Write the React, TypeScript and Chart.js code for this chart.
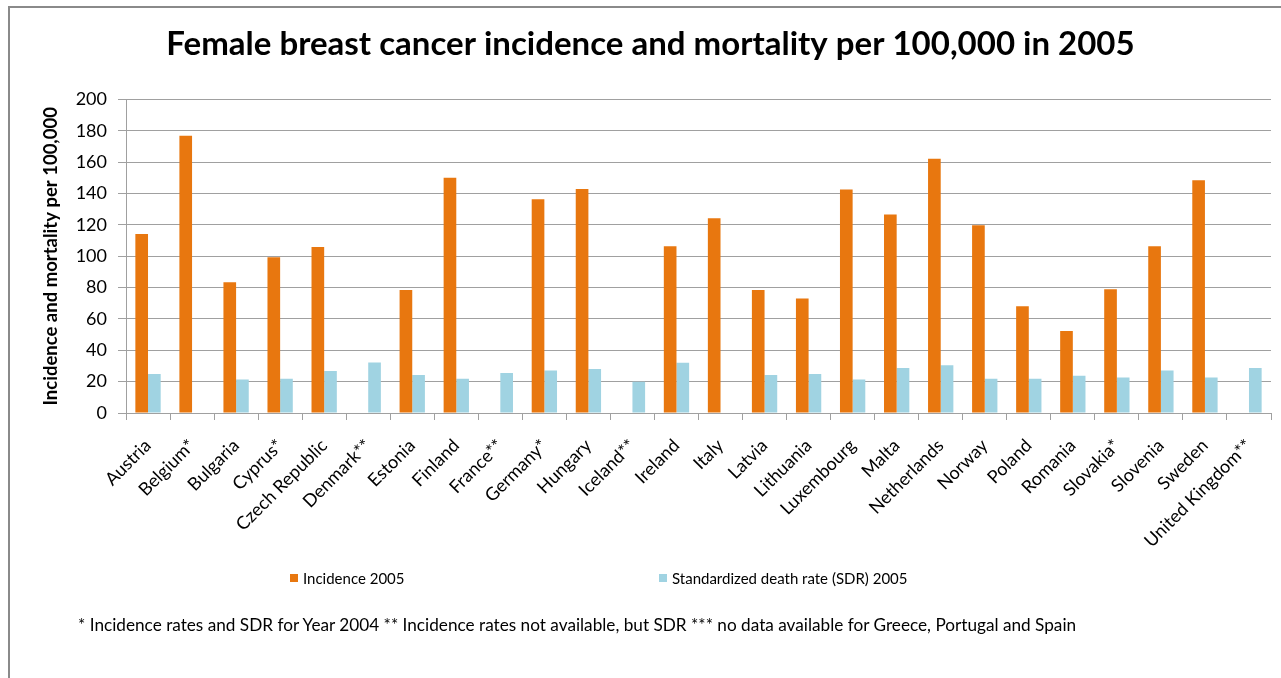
import React, { useEffect, useRef } from "react";
import { Chart, registerables } from "chart.js";

Chart.register(...registerables);

const categories = [
  "Austria", "Belgium*", "Bulgaria", "Cyprus*", "Czech Republic", "Denmark**", "Estonia",
  "Finland", "France**", "Germany*", "Hungary", "Iceland**", "Ireland", "Italy", "Latvia",
  "Lithuania", "Luxembourg", "Malta", "Netherlands", "Norway", "Poland", "Romania",
  "Slovakia*", "Slovenia", "Sweden", "United Kingdom**",
];
const incidence2005 = [
  114.3, 177, 83.4, 99.4, 106, null, 78.5, 150.2, null, 136.4, 143, null, 106.4, 124.3,
  78.5, 73, 142.6, 126.6, 162.3, 119.8, 68.1, 52.3, 78.9, 106.4, 148.5, null,
];
const sdr2005 = [
  24.9, null, 21.3, 21.9, 26.8, 32.3, 24.3, 21.9, 25.5, 27.2, 28.1, 20, 32.1, null, 24.3,
  24.9, 21.3, 28.7, 30.4, 21.9, 21.9, 23.8, 22.6, 27.2, 22.6, 28.7,
];
const seriesNames = ["Incidence 2005", "Standardized death rate (SDR) 2005"];
const titleText = "Female breast cancer incidence and mortality per 100,000 in 2005";
const yTitle = "Incidence and mortality per 100,000";
const footnote =
  "* Incidence rates and SDR for Year 2004 ** Incidence rates not available, but SDR *** no data available for Greece, Portugal and Spain";

const ORANGE = "#E8770F";
const BLUE = "#A0D3E2";
const GRID = "#A0A0A0";
const FONT = "Lato, 'Open Sans', sans-serif";

export default function App() {
  const ref = useRef<HTMLCanvasElement | null>(null);

  useEffect(() => {
    if (!ref.current) return;
    const chart = new Chart(ref.current, {
      type: "bar",
      data: {
        labels: categories,
        datasets: [
          { label: seriesNames[0], data: incidence2005, backgroundColor: ORANGE, borderWidth: 0 },
          { label: seriesNames[1], data: sdr2005, backgroundColor: BLUE, borderWidth: 0 },
        ],
      },
      options: {
        responsive: false,
        animation: false,
        layout: { padding: { left: 30, right: 10, top: 0, bottom: 0 } },
        datasets: { bar: { categoryPercentage: 0.575, barPercentage: 1 } },
        plugins: {
          legend: { display: false },
          tooltip: { enabled: false },
          title: {
            display: true,
            text: titleText,
            color: "#000",
            font: { family: FONT, size: 33, weight: "bold" },
            padding: { top: 25, bottom: 35 },
          },
        },
        scales: {
          x: {
            grid: { drawOnChartArea: false, drawTicks: true, tickLength: 7, color: GRID },
            border: { color: GRID },
            ticks: {
              autoSkip: false,
              maxRotation: 45,
              minRotation: 45,
              padding: 15,
              color: "#000",
              font: { family: FONT, size: 18 },
            },
            afterFit: (s: any) => {
              s.height = 265;
            },
          },
          y: {
            min: 0,
            max: 200,
            ticks: { stepSize: 20, padding: 11, color: "#000", font: { family: FONT, size: 18 } },
            grid: { color: GRID, tickLength: 8 },
            border: { color: GRID },
            title: {
              display: true,
              text: yTitle,
              color: "#000",
              font: { family: FONT, size: 18.5, weight: "bold" },
              padding: { top: 10, bottom: 0 },
            },
            afterFit: (s: any) => {
              s.width = 96;
            },
          },
        },
      },
    });
    return () => chart.destroy();
  }, []);

  const legendText: React.CSSProperties = {
    position: "absolute",
    top: 568,
    fontFamily: FONT,
    fontSize: 15,
    lineHeight: "20px",
    color: "#000",
    whiteSpace: "nowrap",
  };
  const sq = (left: number, color: string): React.CSSProperties => ({
    position: "absolute",
    left,
    top: 574,
    width: 8,
    height: 8,
    background: color,
  });

  return (
    <div
      style={{
        position: "fixed",
        left: 0,
        top: 0,
        width: 1281,
        height: 678,
        overflow: "hidden",
        background: "#fff",
      }}
    >
      <div
        style={{
          position: "absolute",
          left: 8,
          top: 6,
          width: 1281,
          height: 700,
          borderLeft: "2px solid #8a8a8a",
          borderTop: "2px solid #8a8a8a",
        }}
      />
      <canvas ref={ref} width={1281} height={678} style={{ position: "absolute", left: 0, top: 0 }} />
      <div style={sq(290, ORANGE)} />
      <div style={{ ...legendText, left: 303 }}>{seriesNames[0]}</div>
      <div style={sq(659, BLUE)} />
      <div style={{ ...legendText, left: 672 }}>{seriesNames[1]}</div>
      <div
        style={{
          position: "absolute",
          left: 78,
          top: 614,
          fontFamily: FONT,
          fontSize: 17.2,
          lineHeight: "22px",
          color: "#000",
          whiteSpace: "nowrap",
        }}
      >
        {footnote}
      </div>
    </div>
  );
}
